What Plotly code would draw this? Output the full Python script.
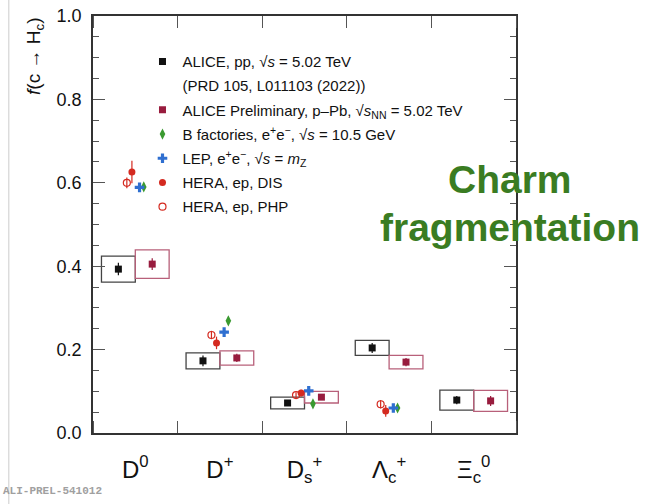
import plotly.graph_objects as go

# ---------------- data ----------------
categories = ["D<sup>0</sup>", "D<sup>+</sup>", "D<sub>s</sub><sup>+</sup>",
              "Λ<sub>c</sub><sup>+</sup>", "Ξ<sub>c</sub><sup>0</sup>"]
cat_idx = [0, 1, 2, 3, 4]

pp_val = [0.393, 0.173, 0.072, 0.204, 0.079]
pp_stat = [0.015, 0.013, 0.006, 0.012, 0.010]
pp_syst = [0.031, 0.019, 0.014, 0.018, 0.024]

ppb_val = [0.405, 0.180, 0.086, 0.170, 0.077]
ppb_stat = [0.014, 0.010, 0.006, 0.010, 0.012]
ppb_syst = [0.034, 0.017, 0.014, 0.016, 0.025]

other_idx = [0, 1, 2, 3]
bfac_val = [0.590, 0.269, 0.070, 0.060]
bfac_err = [0.008, 0.010, 0.006, 0.005]
lep_val = [0.589, 0.242, 0.101, 0.060]
lep_err = [0.008, 0.008, 0.006, 0.005]
dis_val = [0.626, 0.216, 0.096, 0.053]
dis_err = [0.027, 0.015, 0.008, 0.014]
php_val = [0.600, 0.235, 0.091, 0.069]
php_err = [0.013, 0.010, 0.007, 0.010]

y_ticks = [0.0, 0.2, 0.4, 0.6, 0.8, 1.0]
y_ticktext = ["0.0", "0.2", "0.4", "0.6", "0.8", "1.0"]

# ---------------- style ----------------
FONT = "Liberation Sans, Arial, Helvetica, sans-serif"
C_PP = "#111111"
C_PPB = "#981c3e"
C_PPB_BOX = "#b8607a"
C_B = "#3a9a30"
C_LEP = "#2f6fd0"
C_HERA = "#d42a20"
C_GREEN = "#3a7c22"

fig = go.Figure()

def shift(xs, d):
    return [x + d for x in xs]

# systematic boxes (bars with base)
fig.add_trace(go.Bar(
    x=shift(cat_idx, -0.2), y=[2 * s for s in pp_syst],
    base=[v - s for v, s in zip(pp_val, pp_syst)], width=0.4,
    marker=dict(color="rgba(0,0,0,0)", line=dict(color="#444444", width=1.3)),
    showlegend=False, hoverinfo="skip"))
fig.add_trace(go.Bar(
    x=shift(cat_idx, 0.2), y=[2 * s for s in ppb_syst],
    base=[v - s for v, s in zip(ppb_val, ppb_syst)], width=0.4,
    marker=dict(color="rgba(0,0,0,0)", line=dict(color=C_PPB_BOX, width=1.3)),
    showlegend=False, hoverinfo="skip"))

# ALICE pp
fig.add_trace(go.Scatter(
    x=shift(cat_idx, -0.2), y=pp_val, mode="markers",
    marker=dict(symbol="square", size=7, color=C_PP),
    error_y=dict(type="data", array=pp_stat, width=0, thickness=1.2, color=C_PP),
    name="ALICE, pp, √<i>s</i> = 5.02 TeV", legendgroup="a"))
# reference line of the legend
fig.add_trace(go.Scatter(
    x=[None], y=[None], mode="markers",
    marker=dict(size=1, color="rgba(0,0,0,0)"),
    name="(PRD 105, L011103 (2022))", legendgroup="b"))
# ALICE p-Pb
fig.add_trace(go.Scatter(
    x=shift(cat_idx, 0.2), y=ppb_val, mode="markers",
    marker=dict(symbol="square", size=7, color=C_PPB),
    error_y=dict(type="data", array=ppb_stat, width=0, thickness=1.2, color=C_PPB),
    name="ALICE Preliminary, p–Pb, √<i>s</i><sub>NN</sub> = 5.02 TeV", legendgroup="c"))
# B factories
fig.add_trace(go.Scatter(
    x=shift(other_idx, 0.1), y=bfac_val, mode="markers",
    marker=dict(symbol="diamond-tall", size=8, color=C_B),
    error_y=dict(type="data", array=bfac_err, width=0, thickness=1, color=C_B),
    name="B factories, e<sup>+</sup>e<sup>−</sup>, √<i>s</i> = 10.5 GeV", legendgroup="d"))
# LEP
fig.add_trace(go.Scatter(
    x=shift(other_idx, 0.05), y=lep_val, mode="markers",
    marker=dict(symbol="cross", size=8, color=C_LEP),
    error_y=dict(type="data", array=lep_err, width=0, thickness=1, color=C_LEP),
    name="LEP, e<sup>+</sup>e<sup>−</sup>, √<i>s</i> = <i>m</i><sub>Z</sub>", legendgroup="e"))
# HERA DIS
fig.add_trace(go.Scatter(
    x=shift(other_idx, -0.04), y=dis_val, mode="markers",
    marker=dict(symbol="circle", size=7, color=C_HERA),
    error_y=dict(type="data", array=dis_err, width=0, thickness=1.2, color=C_HERA),
    name="HERA, ep, DIS", legendgroup="f"))
# HERA PHP
fig.add_trace(go.Scatter(
    x=shift(other_idx, -0.1), y=php_val, mode="markers",
    marker=dict(symbol="circle-open", size=7, color=C_HERA, line=dict(width=1.2)),
    error_y=dict(type="data", array=php_err, width=0, thickness=1.2, color=C_HERA),
    name="HERA, ep, PHP", legendgroup="g"))

fig.update_layout(
    width=645, height=504,
    margin=dict(l=93, r=129, t=16, b=71),
    paper_bgcolor="white", plot_bgcolor="white",
    barmode="overlay",
    font=dict(family=FONT, color="#111111"),
    legend=dict(x=0.117, y=0.93, xanchor="left", yanchor="top",
                font=dict(size=15, family=FONT, color="#111111"),
                bgcolor="rgba(0,0,0,0)", tracegroupgap=1.7, itemwidth=30,
                valign="middle"),
    xaxis=dict(range=[-0.5, 4.5], tickmode="array", tickvals=cat_idx, ticktext=categories,
               ticks="", showline=True, linecolor="#333333", linewidth=1.5, mirror="ticks",
               showgrid=False, zeroline=False, tickfont=dict(size=24, family=FONT),
               ticklabelstandoff=14, automargin=False,
               minor=dict(tick0=0.5, dtick=1, ticks="inside", ticklen=12, tickcolor="#555555",
                          tickwidth=1, showgrid=False)),
    yaxis=dict(range=[0, 1.0], tickmode="array", tickvals=y_ticks, ticktext=y_ticktext,
               ticks="inside", ticklen=12, tickcolor="#555555", tickwidth=1,
               showline=True, linecolor="#333333", linewidth=1.5, mirror="ticks",
               showgrid=False, zeroline=False, tickfont=dict(size=18, family=FONT),
               ticklabelstandoff=6, automargin=False,
               minor=dict(dtick=0.05, tick0=0, ticks="inside", ticklen=6, tickcolor="#555555",
                          tickwidth=1, showgrid=False)),
)

# y axis title
fig.add_annotation(xref="paper", yref="paper", x=-0.137, y=0.902,
                   xanchor="center", yanchor="middle",
                   text="<i>f</i>(c → H<sub>c</sub>)", textangle=-90, showarrow=False,
                   font=dict(size=19, family=FONT, color="#111111"))
# side label
fig.add_annotation(xref="paper", yref="paper", x=0.986, y=0.607, xanchor="center",
                   yanchor="middle", text="<b>Charm</b>",
                   showarrow=False, font=dict(size=39, family=FONT, color=C_GREEN))
fig.add_annotation(xref="paper", yref="paper", x=0.986, y=0.492, xanchor="center",
                   yanchor="middle", text="<b>fragmentation</b>",
                   showarrow=False, font=dict(size=39, family=FONT, color=C_GREEN))
# watermark
fig.add_annotation(xref="paper", yref="paper", x=-0.218, y=-0.158, xanchor="left",
                   text="<b>ALI-PREL-541012</b>", showarrow=False,
                   font=dict(size=11, family="Liberation Mono, Courier New, monospace",
                             color="#a0a0a0"))
# slide border line on the left
fig.add_shape(type="line", xref="paper", yref="paper", x0=-0.199, x1=-0.199,
              y0=-0.2, y1=1.05, line=dict(color="#cccccc", width=1))

# remove the default 8px page margin so the figure fills the window exactly
fig.write_html("out.html", config={"displayModeBar": False},
               post_script="document.body.style.margin='0';document.body.style.overflow='hidden';")
